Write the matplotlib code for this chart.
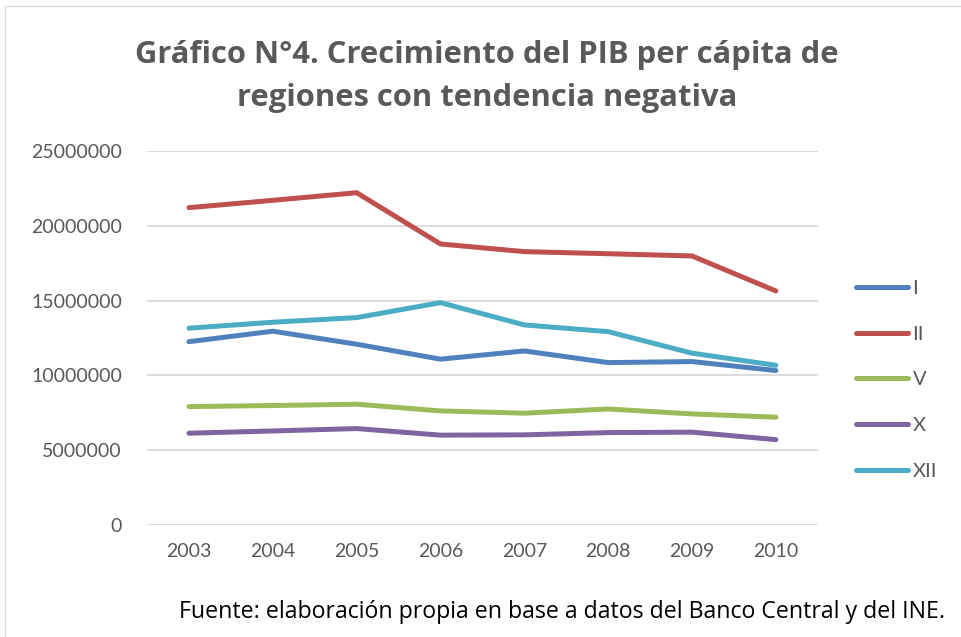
import matplotlib.pyplot as plt
from matplotlib.patches import Rectangle

plt.rcParams['font.family'] = ['Lato', 'DejaVu Sans']

years = ['2003', '2004', '2005', '2006', '2007', '2008', '2009', '2010']
region_i = [12250000, 12950000, 12080000, 11080000, 11630000, 10850000, 10920000, 10320000]
region_ii = [21210000, 21700000, 22210000, 18780000, 18270000, 18130000, 17980000, 15640000]
region_v = [7910000, 7980000, 8070000, 7620000, 7470000, 7750000, 7420000, 7200000]
region_x = [6130000, 6280000, 6440000, 6000000, 6020000, 6170000, 6200000, 5700000]
region_xii = [13150000, 13550000, 13860000, 14860000, 13370000, 12920000, 11480000, 10670000]

series = [('I', region_i, '#4F81BD'),
          ('II', region_ii, '#C0504D'),
          ('V', region_v, '#9BBB59'),
          ('X', region_x, '#8064A2'),
          ('XII', region_xii, '#4BACC6')]

fig = plt.figure(figsize=(9.61, 6.37), dpi=100)
ax = fig.add_axes([0.153, 0.176, 0.698, 0.587])

# marco del grafico
fig.patches.append(Rectangle((5/961, -0.1), 1.2, 1 - 6/637 + 0.1, transform=fig.transFigure,
                             fill=False, edgecolor='#d9d9d9', linewidth=1))

x = range(len(years))
for name, vals, col in series:
    ax.plot(x, vals, color=col, linewidth=3.6, solid_capstyle='round', solid_joinstyle='round', label=name)

ax.set_xlim(-0.5, len(years) - 0.5)
ax.set_ylim(0, 25000000)
ax.set_yticks(range(0, 25000001, 5000000))
ax.set_yticklabels([str(v) for v in range(0, 25000001, 5000000)])
ax.set_xticks(list(x))
ax.set_xticklabels(years)
ax.grid(axis='y', color='#d9d9d9', linewidth=1.3)
ax.set_axisbelow(True)
for s in ax.spines.values():
    s.set_visible(False)
ax.tick_params(length=0, labelsize=14, labelcolor='#595959')
ax.tick_params(axis='y', pad=18)
ax.tick_params(axis='x', pad=13)

fig.text(0.507, 0.88, 'Gráfico N°4. Crecimiento del PIB per cápita de\nregiones con tendencia negativa',
         ha='center', va='center', fontsize=22.3, fontweight='bold', color='#595959',
         linespacing=1.6, family=['Open Sans', 'DejaVu Sans'])

ax.legend(loc='center left', bbox_to_anchor=(1.0, 0.388), frameon=False, fontsize=14.5,
          labelcolor='#595959', handlelength=2.6, handletextpad=0.2, labelspacing=1.42,
          borderaxespad=1.5)

fig.text(0.984, 0.04, 'Fuente: elaboración propia en base a datos del Banco Central y del INE.',
         ha='right', va='center', fontsize=16.7, color='black', family=['Open Sans', 'DejaVu Sans'])

fig.savefig('out.png', dpi=100)
